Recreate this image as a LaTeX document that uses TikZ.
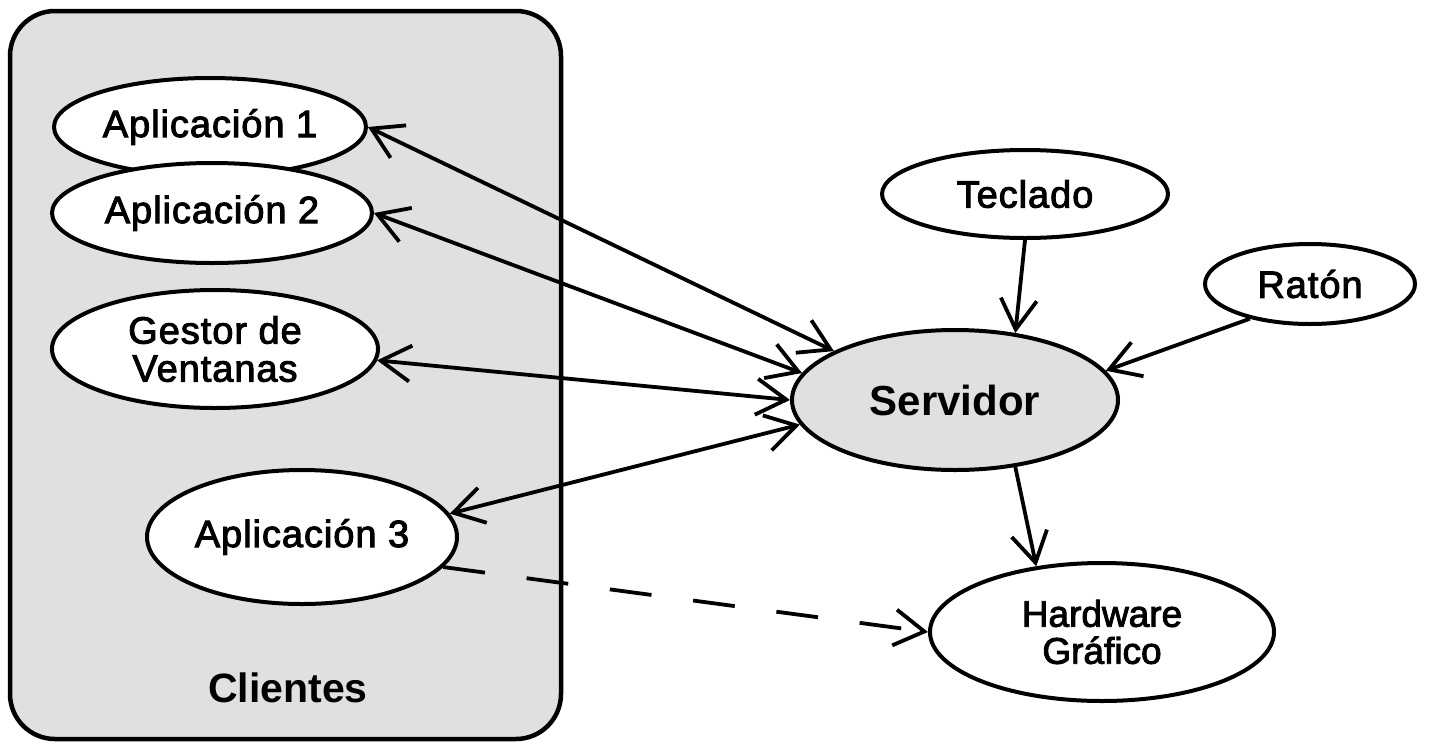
\documentclass[tikz,border=0pt]{standalone}
\usepackage{fontspec}
\setmainfont{Liberation Sans}
\newfontfamily\nodefont{Liberation Sans}[LetterSpace=2.5, FakeBold=2.5]
\newfontfamily\narrowfont{Liberation Sans}[FakeBold=2.5]
\usetikzlibrary{shapes.geometric,arrows.meta}
\definecolor{panelgray}{RGB}{224,224,224}
\begin{document}
\begin{tikzpicture}[x=1pt,y=-1pt,
  ell/.style={ellipse, draw, line width=4pt, fill=white, inner sep=-15pt,
    font=\nodefont\fontsize{38}{38}\selectfont, align=center},
  barb/.tip={Straight Barb[length=30pt,width=36pt]},
  conn/.style={line width=3.8pt, barb-barb},
  oneway/.style={line width=3.8pt, -barb},
  dashconn/.style={line width=3.8pt, -barb, dash pattern=on 42pt off 42pt}
]
\useasboundingbox (0,0) rectangle (1454,745);
% clients panel
\draw[line width=4.5pt, fill=panelgray, rounded corners=45pt] (10,11) rectangle (561,739);
\node[font=\bfseries\fontsize{41}{46}\selectfont] (cli) at (288,688) {Clientes};
% client ellipses
\node[ell, minimum width=312pt, minimum height=98pt] (app1) at (210,127) {Aplicación 1};
\node[ell, minimum width=320pt, minimum height=100pt] (app2) at (212,213) {Aplicación 2};
\node[ell, minimum width=326pt, minimum height=118pt] (gest) at (215,349) {Gestor de\\Ventanas};
\node[ell, minimum width=310pt, minimum height=134pt] (app3) at (302,537) {Aplicación 3};
% right side
\node[ell, minimum width=286pt, minimum height=88pt] (tecl) at (1025,194) {Teclado};
\node[ell, minimum width=210pt, minimum height=80pt] (raton) at (1310,284) {Ratón};
\node[ell, fill=panelgray, minimum width=326pt, minimum height=140pt,
  font=\bfseries\fontsize{42}{46}\selectfont] (srv) at (955,400) {Servidor};
\node[ell, minimum width=344pt, minimum height=138pt,
  font=\narrowfont\fontsize{37}{37}\selectfont] (hw) at (1102,632) {Hardware\\Gráfico};
% connectors
\draw[conn] (app1.east) -- (srv.158);
\draw[conn] (app2.east) -- (srv.170);
\draw[conn] (gest.-4) -- (srv.180);
\draw[conn] (app3.9) -- (srv.189);
\draw[oneway] (tecl.south) -- (srv.48);
\draw[oneway] (raton.210) -- (srv.11);
\draw[oneway] (srv.-48) -- (hw.135);
\draw[dashconn] (app3.-12) -- (hw.west);
\end{tikzpicture}
\end{document}
